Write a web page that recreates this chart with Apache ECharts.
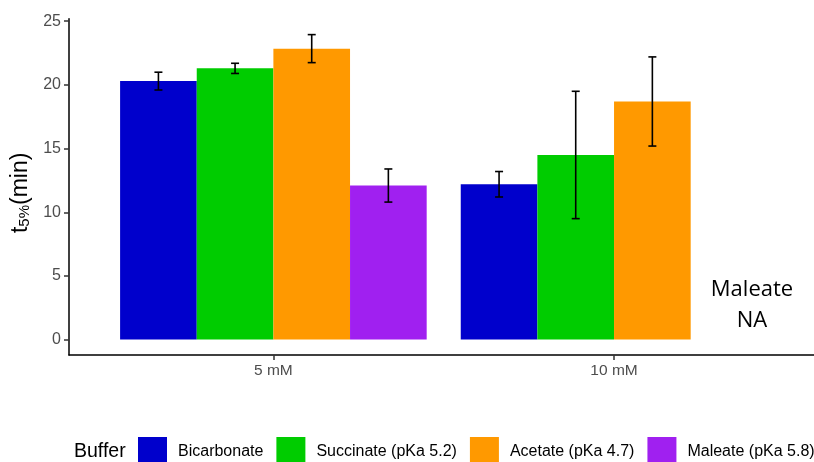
<!DOCTYPE html>
<html>
<head>
<meta charset="utf-8">
<script src="https://cdn.jsdelivr.net/npm/echarts@6/dist/echarts.min.js"></script>
<style>html,body{margin:0;padding:0;background:#fff}#c{width:814px;height:462px}</style>
</head>
<body>
<div id="c"></div>
<script>
const categories = ['5 mM', '10 mM'];
const buffers = ['Bicarbonate', 'Succinate (pKa 5.2)', 'Acetate (pKa 4.7)', 'Maleate (pKa 5.8)'];
const colors = ['#0000CC', '#00CC00', '#FF9900', '#A020F0'];
const bicarbonateMean = [20.3, 12.2];
const bicarbonateSd = [0.7, 1.0];
const succinateMean = [21.3, 14.5];
const succinateSd = [0.4, 5.0];
const acetateMean = [22.85, 18.7];
const acetateSd = [1.1, 3.5];
const maleateMean = [12.1, null];
const maleateSd = [1.3, null];
const yTicks = [0, 5, 10, 15, 20, 25];

const means = [bicarbonateMean, succinateMean, acetateMean, maleateMean];
const sds = [bicarbonateSd, succinateSd, acetateSd, maleateSd];
const dodge = 0.225;

function makeData(m, s) {
  const out = [];
  for (let i = 0; i < categories.length; i++) {
    if (m[i] != null) out.push([i + 1, m[i], s[i]]);
  }
  return out;
}

function renderItem(params, api) {
  const k = params.seriesIndex;
  const x = api.value(0) + (k - 1.5) * dodge;
  const v = api.value(1), sd = api.value(2);
  const tl = api.coord([x - dodge / 2, v]);
  const br = api.coord([x + dodge / 2, 0]);
  const hi = api.coord([x, v + sd]);
  const lo = api.coord([x, v - sd]);
  const cap = 4;
  const ls = { stroke: '#000', lineWidth: 1.6 };
  return {
    type: 'group',
    children: [
      { type: 'rect', shape: { x: tl[0], y: tl[1], width: br[0] - tl[0], height: br[1] - tl[1] }, style: { fill: api.visual('color') } },
      { type: 'line', shape: { x1: hi[0], y1: hi[1], x2: lo[0], y2: lo[1] }, style: ls },
      { type: 'line', shape: { x1: hi[0] - cap, y1: hi[1], x2: hi[0] + cap, y2: hi[1] }, style: ls },
      { type: 'line', shape: { x1: lo[0] - cap, y1: lo[1], x2: lo[0] + cap, y2: lo[1] }, style: ls }
    ]
  };
}

const series = buffers.map((name, k) => ({
  name: name,
  type: 'custom',
  renderItem: renderItem,
  itemStyle: { color: colors[k] },
  encode: { x: 0, y: 1 },
  data: makeData(means[k], sds[k])
}));

const chart = echarts.init(document.getElementById('c'), null, { renderer: 'canvas' });
chart.setOption({
  animation: false,
  backgroundColor: '#fff',
  textStyle: { fontFamily: 'Liberation Sans, Arial, sans-serif' },
  grid: { left: 69, top: 18.7, right: 0, height: 336.2, containLabel: false },
  xAxis: {
    type: 'value', min: 0.4, max: 2.587,
    splitLine: { show: false },
    axisLine: { onZero: false, lineStyle: { color: '#000', width: 1.5 } },
    axisTick: { show: true, length: 5, customValues: [1, 2], lineStyle: { color: '#333', width: 1.5 } },
    axisLabel: { customValues: [1, 2], formatter: v => categories[Math.round(v) - 1], color: '#4D4D4D', fontSize: 15.5, margin: 8 }
  },
  yAxis: {
    type: 'value', min: -1.2, max: 25.2,
    splitLine: { show: false },
    axisLine: { show: true, onZero: false, lineStyle: { color: '#000', width: 1.5 } },
    axisTick: { show: true, length: 5, customValues: yTicks, lineStyle: { color: '#333', width: 1.5 } },
    axisLabel: { customValues: yTicks, color: '#4D4D4D', fontSize: 16, margin: 8 },
    name: '{a|t}{s|5%}{a|(min)}',
    nameLocation: 'middle',
    nameGap: 36,
    nameTextStyle: {
      padding: [0, 12, 0, 0],
      rich: {
        a: { fontSize: 23, color: '#000', fontFamily: 'Liberation Sans, Arial, sans-serif' },
        s: { fontSize: 15, color: '#000', fontFamily: 'Liberation Sans, Arial, sans-serif', verticalAlign: 'bottom', padding: [8, 0, 0, 0] }
      }
    }
  },
  legend: {
    left: 138, top: 437, width: 720, padding: 0,
    itemWidth: 29, itemHeight: 29, itemGap: 13,
    icon: 'rect',
    selectedMode: false,
    textStyle: { fontSize: 16, color: '#000', padding: [2, 0, 0, 6] },
    data: buffers
  },
  graphic: [
    { type: 'text', left: 74, top: 442, style: { text: 'Buffer', fontSize: 19.5, fill: '#000', fontFamily: 'Liberation Sans, Arial, sans-serif' } },
    { type: 'text', x: 752, y: 305, style: { text: 'Maleate\nNA', fontSize: 22, lineHeight: 31, fill: '#000', align: 'center', verticalAlign: 'middle', fontFamily: 'Open Sans, sans-serif' } }
  ],
  series: series
});
</script>
</body>
</html>
